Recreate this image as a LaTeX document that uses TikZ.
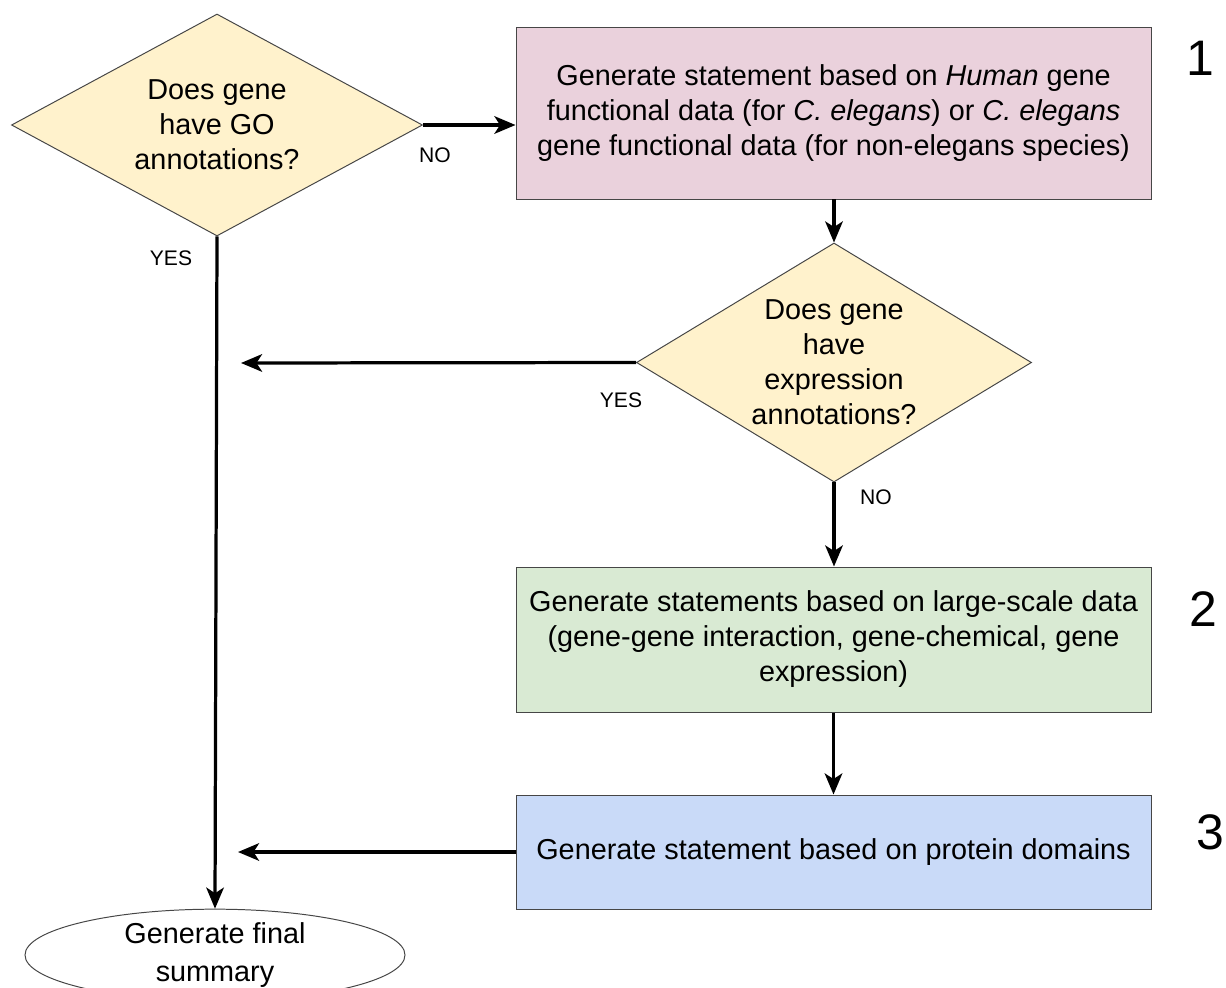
\documentclass[tikz,border=0pt]{standalone}
\usepackage{fontspec}
\setmainfont{Liberation Sans}
\usepackage{tikz}
\usetikzlibrary{arrows.meta,shapes,positioning}
\usepackage{xcolor}
\definecolor{gdyellow}{RGB}{255,242,204}
\definecolor{gdpink}{RGB}{234,209,220}
\definecolor{gdgreen}{RGB}{217,234,211}
\definecolor{gdblue}{RGB}{201,218,248}
\definecolor{gdborder}{RGB}{70,70,70}
\tikzstyle{arrow} = [line width=2.3pt,-{Stealth[length=15pt,width=12.5pt,inset=4pt]},color=black]
\tikzstyle{decision} = [diamond, inner sep=0pt, text centered, align=center, draw=gdborder, fill=gdyellow, line width=0.7pt, font=\fontsize{20.5}{24.9}\selectfont]
\tikzstyle{process} = [rectangle, minimum width=15.875cm, text centered, align=center, draw=gdborder, line width=0.7pt, font=\fontsize{20.5}{24.9}\selectfont]
\tikzstyle{final} = [ellipse, inner sep=0pt, align=center, draw=gdborder, fill=white, line width=0.7pt, font=\fontsize{20.5}{27}\selectfont]
\tikzstyle{answer} = [font=\fontsize{15}{18}\selectfont]
\tikzstyle{stepnum} = [font=\fontsize{35.5}{40}\selectfont]

\begin{document}
\begin{tikzpicture}
\useasboundingbox (0,0) rectangle (30.65,-24.675);
% Decisions
\node[decision, aspect=1.85, minimum width=10.275cm, minimum height=5.55cm] (hasgo) at (5.425,-3.125) {Does gene\\have GO\\annotations?};
\node[decision, aspect=1.65, minimum width=9.875cm, minimum height=5.975cm] (hasexpr) at (20.85,-9.0625) {Does gene\\have\\expression\\annotations?};

% Statements
\node[process, fill=gdpink, minimum height=4.3cm] (orthology) at (20.8375,-2.825) {Generate statement based on \textit{Human} gene\\functional data (for \textit{C. elegans}) or \textit{C. elegans}\\gene functional data (for non-elegans species)};
\node[process, fill=gdgreen, minimum height=3.625cm] (largescale) at (20.8375,-15.9875) {Generate statements based on large-scale data\\(gene-gene interaction, gene-chemical, gene\\expression)};
\node[process, fill=gdblue, minimum height=2.85cm] (domains) at (20.8375,-21.3) {Generate statement based on protein domains};

\node[final, minimum width=9.5cm, minimum height=2.25cm] (summary) at (5.375,-23.875) {Generate final\\summary};

% Step numbers
\node[stepnum] (one) at (30.0,-1.45) {1};
\node[stepnum] (two) at (30.075,-15.225) {2};
\node[stepnum] (three) at (30.25,-20.8) {3};

% Free ends
\coordinate (yesend) at (6.025,-9.075);
\coordinate (domend) at (5.95,-21.3);

% Connectors
\draw[arrow] (hasgo.east) -- (hasgo.east -| orthology.west);
\draw[arrow] (hasgo.south) -- (summary.north);
\draw[arrow] (orthology.south -| hasexpr.north) -- (hasexpr.north);
\draw[arrow] (hasexpr.west) -- (yesend);
\draw[arrow] (hasexpr.south) -- (hasexpr.south |- largescale.north);
\draw[arrow] (largescale.south -| domains.north) -- (domains.north);
\draw[arrow] (domains.west) -- (domend);

% Labels
\node[answer] (nogo) at (10.875,-3.875) {NO};
\node[answer] (yesgo) at (4.275,-6.45) {YES};
\node[answer] (yesexpr) at (15.525,-10.0) {YES};
\node[answer] (noexpr) at (21.9,-12.425) {NO};
\end{tikzpicture}
\end{document}
